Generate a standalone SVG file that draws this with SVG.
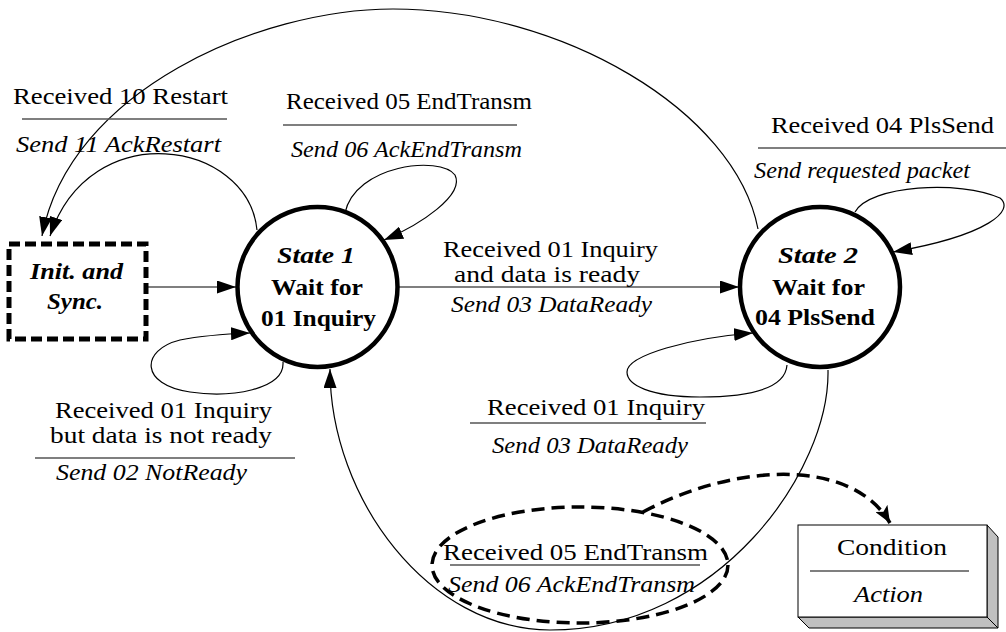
<svg xmlns="http://www.w3.org/2000/svg" width="1006" height="632" viewBox="0 0 1006 632" font-family="Liberation Serif, DejaVu Serif, serif">
<style>
.lbl{font-size:24px;fill:#000}
.it{font-style:italic}
.st{font-size:24px;font-weight:bold;fill:#000}
.sep{stroke:#555;stroke-width:1.5;fill:none}
.con{stroke:#000;stroke-width:1.2;fill:none}
.state{fill:#fff;stroke:#000;stroke-width:4.5}
</style>
<defs>
<marker id="ah" markerUnits="userSpaceOnUse" markerWidth="20" markerHeight="13" refX="19" refY="6.5" orient="auto">
<path d="M0,0 L19,6.5 L0,13 z" fill="#000"/>
</marker>
<marker id="ahd" markerUnits="userSpaceOnUse" markerWidth="18" markerHeight="14" refX="17" refY="7" orient="auto">
<path d="M0,0 L17,7 L0,14 L4,7 z" fill="#000"/>
</marker>
</defs>
<rect width="1006" height="632" fill="#fff"/>

<g id="connectors">
<path class="con" d="M758,229 C735,110 560,9 393,9 C260,9 70,90 42,236" marker-end="url(#ah)"/>
<path class="con" d="M257,230 C248,140 90,115 50,236" marker-end="url(#ah)"/>
<path class="con" d="M345,213 C355,165 440,155 455,175 C465,195 420,225 384,240" marker-end="url(#ah)"/>
<path class="con" d="M148,287 L236,287" marker-end="url(#ah)"/>
<path class="con" d="M283,362 C285,390 230,398 190,392 C140,385 140,350 180,340 C205,335 225,334 250,333" marker-end="url(#ah)"/>
<path class="con" d="M399,287 L739,287" marker-end="url(#ah)"/>
<path class="con" d="M855,212 C870,185 960,180 1000,198 C1015,210 990,235 893,252" marker-end="url(#ah)"/>
<path class="con" d="M787,365 C785,392 740,397 700,397 C650,397 627,385 627,372 C627,355 690,338 753,333" marker-end="url(#ah)"/>
<path class="con" d="M828,370 C830,470 720,630 550,630 C430,630 330,500 330,369" marker-end="url(#ah)"/>
<path d="M643,512 C730,465 850,455 890,523" fill="none" stroke="#000" stroke-width="3.5" stroke-dasharray="13 7" marker-end="url(#ahd)"/>
</g>

<g id="init">
<rect x="9" y="244" width="137" height="95" fill="#fff" stroke="#000" stroke-width="5" stroke-dasharray="11 5"/>
<text class="st it" x="30" y="279" textLength="93" lengthAdjust="spacingAndGlyphs">Init. and</text>
<text class="st it" x="47" y="309" textLength="56" lengthAdjust="spacingAndGlyphs">Sync.</text>
</g>

<g id="state1">
<circle class="state" cx="317.5" cy="287" r="80"/>
<text class="st it" x="277" y="263" textLength="78" lengthAdjust="spacingAndGlyphs">State 1</text>
<text class="st" x="271" y="295" textLength="92" lengthAdjust="spacingAndGlyphs">Wait for</text>
<text class="st" x="261" y="326" textLength="115" lengthAdjust="spacingAndGlyphs">01 Inquiry</text>
</g>

<g id="state2">
<circle class="state" cx="820" cy="287" r="80"/>
<text class="st it" x="778" y="263" textLength="80" lengthAdjust="spacingAndGlyphs">State 2</text>
<text class="st" x="772" y="295" textLength="93" lengthAdjust="spacingAndGlyphs">Wait for</text>
<text class="st" x="755" y="325" textLength="120" lengthAdjust="spacingAndGlyphs">04 PlsSend</text>
</g>

<g id="label-restart">
<text class="lbl" x="13" y="104" textLength="215" lengthAdjust="spacingAndGlyphs">Received 10 Restart</text>
<line class="sep" x1="22" y1="119" x2="227" y2="119"/>
<text class="lbl it" x="16" y="152" textLength="205" lengthAdjust="spacingAndGlyphs">Send 11 AckRestart</text>
</g>

<g id="label-endtransm-top">
<text class="lbl" x="286" y="109" textLength="246" lengthAdjust="spacingAndGlyphs">Received 05 EndTransm</text>
<line class="sep" x1="283" y1="125" x2="517" y2="125"/>
<text class="lbl it" x="291" y="157" textLength="231" lengthAdjust="spacingAndGlyphs">Send 06 AckEndTransm</text>
</g>

<g id="label-plssend">
<text class="lbl" x="771" y="133" textLength="223" lengthAdjust="spacingAndGlyphs">Received 04 PlsSend</text>
<line class="sep" x1="758" y1="148" x2="1006" y2="148"/>
<text class="lbl it" x="754" y="178" textLength="216" lengthAdjust="spacingAndGlyphs">Send requested packet</text>
</g>

<g id="label-ready">
<text class="lbl" x="443" y="257" textLength="215" lengthAdjust="spacingAndGlyphs">Received 01 Inquiry</text>
<text class="lbl" x="454" y="282" textLength="186" lengthAdjust="spacingAndGlyphs">and data is ready</text>
<text class="lbl it" x="451" y="312" textLength="201" lengthAdjust="spacingAndGlyphs">Send 03 DataReady</text>
</g>

<g id="label-inquiry2">
<text class="lbl" x="487" y="415" textLength="218" lengthAdjust="spacingAndGlyphs">Received 01 Inquiry</text>
<line class="sep" x1="470" y1="423" x2="706" y2="423"/>
<text class="lbl it" x="492" y="453" textLength="196" lengthAdjust="spacingAndGlyphs">Send 03 DataReady</text>
</g>

<g id="label-notready">
<text class="lbl" x="55" y="418" textLength="217" lengthAdjust="spacingAndGlyphs">Received 01 Inquiry</text>
<text class="lbl" x="50" y="443" textLength="222" lengthAdjust="spacingAndGlyphs">but data is not ready</text>
<line class="sep" x1="35" y1="458" x2="295" y2="458"/>
<text class="lbl it" x="56" y="480" textLength="191" lengthAdjust="spacingAndGlyphs">Send 02 NotReady</text>
</g>

<g id="label-endtransm-bottom">
<ellipse cx="580" cy="565" rx="148" ry="58" fill="none" stroke="#000" stroke-width="3.5" stroke-dasharray="13 7"/>
<text class="lbl" x="443" y="560" textLength="265" lengthAdjust="spacingAndGlyphs">Received 05 EndTransm</text>
<line class="sep" x1="450" y1="565" x2="700" y2="565"/>
<text class="lbl it" x="448" y="592" textLength="247" lengthAdjust="spacingAndGlyphs">Send 06 AckEndTransm</text>
</g>

<g id="legend">
<polygon points="987,525 998,537 998,628 987,617" fill="#c0c0c0" stroke="#000" stroke-width="1"/>
<polygon points="798,617 987,617 998,628 809,628" fill="#c0c0c0" stroke="#000" stroke-width="1"/>
<rect x="798" y="525" width="189" height="92" fill="#fff" stroke="#000" stroke-width="1"/>
<text class="lbl" x="837" y="555" textLength="110" lengthAdjust="spacingAndGlyphs">Condition</text>
<line class="sep" x1="810" y1="571" x2="969" y2="571"/>
<text class="lbl it" x="854" y="602" textLength="69" lengthAdjust="spacingAndGlyphs">Action</text>
</g>
</svg>
